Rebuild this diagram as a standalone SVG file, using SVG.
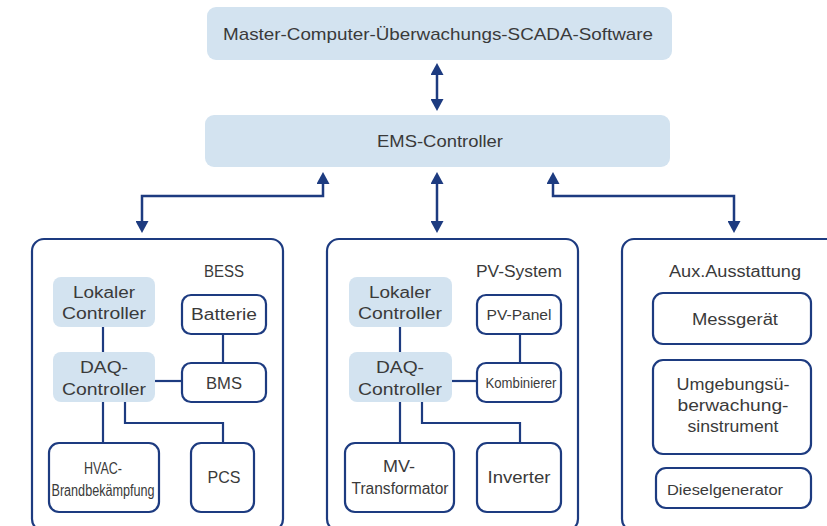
<svg xmlns="http://www.w3.org/2000/svg" width="827" height="526" viewBox="0 0 827 526">
<defs>
<style>
.lb{fill:#d3e3f0;stroke:none}
.bx{fill:#fff;stroke:#1d3b80;stroke-width:2.2}
.ob{fill:#fff;stroke:#1d3b80;stroke-width:2.2}
.ln{fill:none;stroke:#1d3b80;stroke-width:2.5}
.cn{fill:none;stroke:#1d3b80;stroke-width:2.2}
text{font-family:"Liberation Sans",Arial,sans-serif;fill:#3a3a3a;text-anchor:middle}
.t17{font-size:17px}
.t16{font-size:16px}
.t15{font-size:15px}
.t14{font-size:14px}
</style>
<marker id="ah" viewBox="0 0 12 13" refX="0" refY="6.5" markerWidth="12" markerHeight="13" markerUnits="userSpaceOnUse" orient="auto-start-reverse">
<path d="M0,0 L12,6.5 L0,13 Z" fill="#1d3b80"/>
</marker>
</defs>

<g id="scada">
<rect class="lb" x="207" y="7" width="465" height="53" rx="9"/>
<text class="t17" x="438" y="40" textLength="430" lengthAdjust="spacingAndGlyphs">Master-Computer-Überwachungs-SCADA-Software</text>
</g>
<g id="ems">
<rect class="lb" x="205" y="115" width="465" height="52" rx="9"/>
<text class="t17" x="440" y="147" textLength="126" lengthAdjust="spacingAndGlyphs">EMS-Controller</text>
</g>

<g id="bess">
<rect class="ob" x="32" y="239" width="251" height="292" rx="12"/>
<text class="t16" x="224" y="277" textLength="40" lengthAdjust="spacingAndGlyphs">BESS</text>
</g>
<g id="pv">
<rect class="ob" x="327" y="239" width="251" height="292" rx="12"/>
<text class="t16" x="519" y="277" textLength="86" lengthAdjust="spacingAndGlyphs">PV-System</text>
</g>
<g id="aux">
<rect class="ob" x="622" y="239" width="260" height="292" rx="12"/>
<text class="t16" x="735" y="277" textLength="132" lengthAdjust="spacingAndGlyphs">Aux.Ausstattung</text>
</g>

<g id="connectors">
<path class="ln" d="M437,75 L437,99" marker-start="url(#ah)" marker-end="url(#ah)"/>
<path class="ln" d="M437,184 L437,221" marker-start="url(#ah)" marker-end="url(#ah)"/>
<path class="ln" d="M323,184 L323,196 L142,196 L142,221" marker-start="url(#ah)" marker-end="url(#ah)"/>
<path class="ln" d="M553,184 L553,196 L734,196 L734,221" marker-start="url(#ah)" marker-end="url(#ah)"/>
<path class="cn" d="M103,327 L103,352"/>
<path class="cn" d="M223,334 L223,363"/>
<path class="cn" d="M155,381 L182,381"/>
<path class="cn" d="M103,402 L103,443"/>
<path class="cn" d="M125,402 L125,423 L223,423 L223,443"/>
<path class="cn" d="M400,327 L400,352"/>
<path class="cn" d="M520,334 L520,363"/>
<path class="cn" d="M452,381 L477,381"/>
<path class="cn" d="M400,402 L400,443"/>
<path class="cn" d="M422,402 L422,423 L520,423 L520,443"/>
</g>

<g id="bess-lokaler">
<rect class="lb" x="53" y="277" width="102" height="50" rx="8"/>
<text class="t16" x="104" y="298" textLength="62" lengthAdjust="spacingAndGlyphs">Lokaler</text>
<text class="t16" x="104" y="319" textLength="84" lengthAdjust="spacingAndGlyphs">Controller</text>
</g>
<g id="bess-daq">
<rect class="lb" x="53" y="352" width="102" height="50" rx="8"/>
<text class="t16" x="104" y="373" textLength="48" lengthAdjust="spacingAndGlyphs">DAQ-</text>
<text class="t16" x="104" y="395" textLength="84" lengthAdjust="spacingAndGlyphs">Controller</text>
</g>
<g id="batterie">
<rect class="bx" x="182" y="295" width="84" height="39" rx="9"/>
<text class="t16" x="224" y="320" textLength="66" lengthAdjust="spacingAndGlyphs">Batterie</text>
</g>
<g id="bms">
<rect class="bx" x="182" y="363" width="84" height="39" rx="9"/>
<text class="t16" x="224" y="389" textLength="36" lengthAdjust="spacingAndGlyphs">BMS</text>
</g>
<g id="hvac">
<rect class="bx" x="49" y="443" width="110" height="69" rx="10"/>
<text class="t16" x="103" y="474" textLength="38" lengthAdjust="spacingAndGlyphs">HVAC-</text>
<text class="t16" x="103" y="496" textLength="103" lengthAdjust="spacingAndGlyphs">Brandbekämpfung</text>
</g>
<g id="pcs">
<rect class="bx" x="191" y="443" width="63" height="69" rx="10"/>
<text class="t17" x="224" y="483" textLength="33" lengthAdjust="spacingAndGlyphs">PCS</text>
</g>

<g id="pv-lokaler">
<rect class="lb" x="349" y="277" width="103" height="50" rx="8"/>
<text class="t16" x="400" y="298" textLength="62" lengthAdjust="spacingAndGlyphs">Lokaler</text>
<text class="t16" x="400" y="319" textLength="84" lengthAdjust="spacingAndGlyphs">Controller</text>
</g>
<g id="pv-daq">
<rect class="lb" x="349" y="352" width="103" height="50" rx="8"/>
<text class="t16" x="400" y="373" textLength="48" lengthAdjust="spacingAndGlyphs">DAQ-</text>
<text class="t16" x="400" y="395" textLength="84" lengthAdjust="spacingAndGlyphs">Controller</text>
</g>
<g id="pv-panel">
<rect class="bx" x="477" y="295" width="84" height="39" rx="9"/>
<text class="t15" x="519" y="320" textLength="65" lengthAdjust="spacingAndGlyphs">PV-Panel</text>
</g>
<g id="kombinierer">
<rect class="bx" x="477" y="363" width="84" height="39" rx="9"/>
<text class="t15" x="521" y="388" textLength="71" lengthAdjust="spacingAndGlyphs">Kombinierer</text>
</g>
<g id="mv">
<rect class="bx" x="345" y="443" width="109" height="69" rx="10"/>
<text class="t16" x="399" y="472" textLength="32" lengthAdjust="spacingAndGlyphs">MV-</text>
<text class="t16" x="400" y="494" textLength="97" lengthAdjust="spacingAndGlyphs">Transformator</text>
</g>
<g id="inverter">
<rect class="bx" x="477" y="443" width="84" height="69" rx="10"/>
<text class="t17" x="519" y="483" textLength="63" lengthAdjust="spacingAndGlyphs">Inverter</text>
</g>

<g id="messgeraet">
<rect class="bx" x="653" y="293" width="158" height="51" rx="10"/>
<text class="t16" x="735" y="325" textLength="86" lengthAdjust="spacingAndGlyphs">Messgerät</text>
</g>
<g id="umgebung">
<rect class="bx" x="653" y="360" width="158" height="94" rx="10"/>
<text class="t16" x="733" y="390" textLength="113" lengthAdjust="spacingAndGlyphs">Umgebungsü-</text>
<text class="t16" x="733" y="411" textLength="111" lengthAdjust="spacingAndGlyphs">berwachung-</text>
<text class="t16" x="733" y="432" textLength="91" lengthAdjust="spacingAndGlyphs">sinstrument</text>
</g>
<g id="diesel">
<rect class="bx" x="656" y="468" width="155" height="40" rx="10"/>
<text class="t15" x="725" y="495" textLength="116" lengthAdjust="spacingAndGlyphs">Dieselgenerator</text>
</g>
</svg>
